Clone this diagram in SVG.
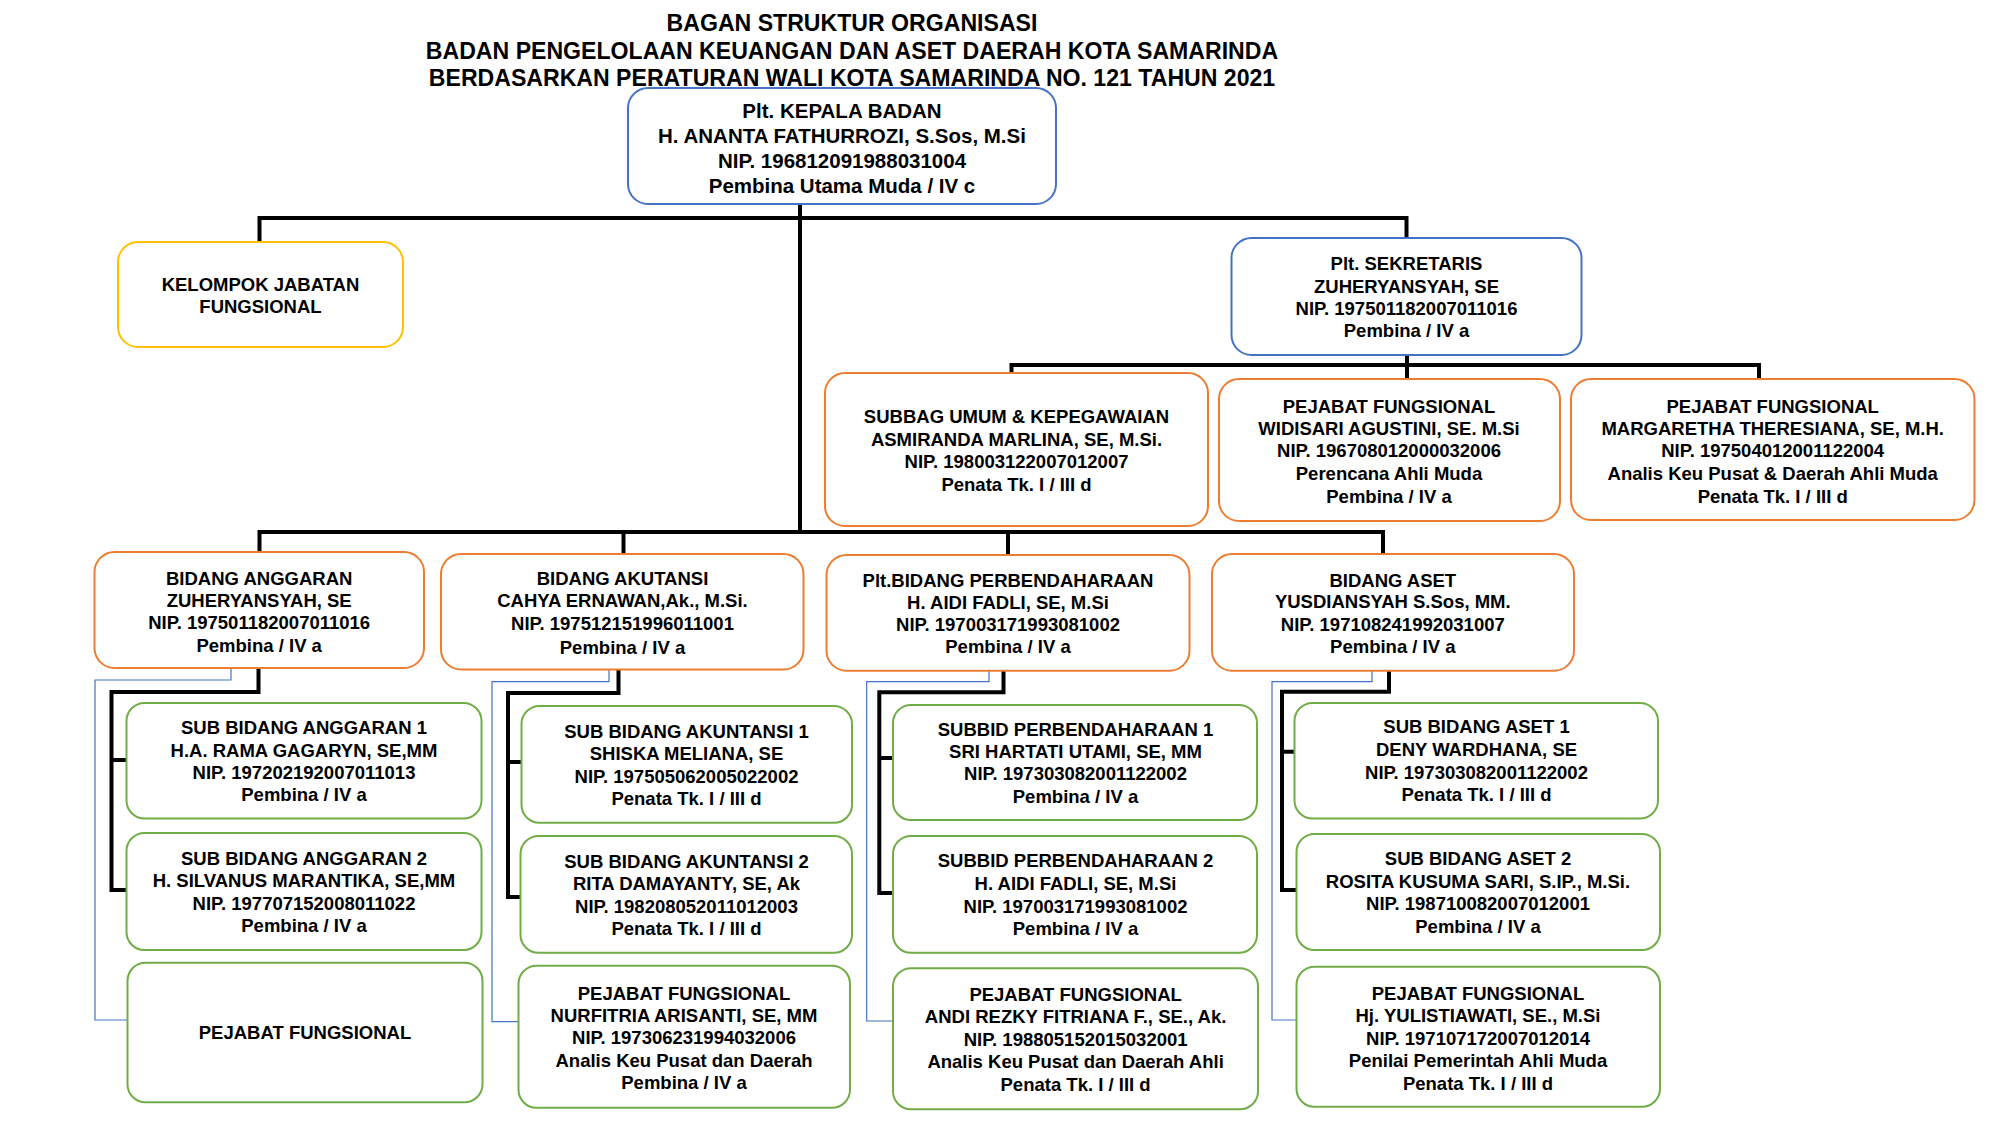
<svg xmlns="http://www.w3.org/2000/svg" width="2000" height="1125" viewBox="0 0 2000 1125">
<style>
text{font-family:"Liberation Sans",Arial,sans-serif;font-weight:bold;fill:#000;text-anchor:middle}
.tt{font-size:23.1px}
.tk{font-size:20.5px}
.t{font-size:18.5px}
.box{fill:#fff;stroke-width:2}
.blue{stroke:#4472C4}
.yel{stroke:#FFC000}
.org{stroke:#ED7D31}
.grn{stroke:#70AD47}
.ln{stroke:#000;stroke-width:4;fill:none}
.thin{stroke:#4472C4;stroke-width:1.2;fill:none}
</style>
<rect width="2000" height="1125" fill="#fff"/>
<g id="title">
<text class="tt" x="852" y="31">BAGAN STRUKTUR ORGANISASI</text>
<text class="tt" x="852" y="58.5">BADAN PENGELOLAAN KEUANGAN DAN ASET DAERAH KOTA SAMARINDA</text>
<text class="tt" x="852" y="85.5">BERDASARKAN PERATURAN WALI KOTA SAMARINDA NO. 121 TAHUN 2021</text>
</g>
<g id="connectors">
<path class="thin" d="M231,668 V680 H95 V1020 H127.5"/>
<path class="thin" d="M609,669 V681.7 H492 V1021.7 H518.5"/>
<path class="thin" d="M989,670.7 V681.7 H866.7 V1021 H893"/>
<path class="thin" d="M1372,670.7 V681.7 H1272 V1020 H1296.5"/>
<path class="ln" d="M800,204 V532"/>
<path class="ln" d="M259.5,242 V218 H1406.5 V238"/>
<path class="ln" d="M1407,355 V379"/>
<path class="ln" d="M1011.5,373 V365 H1759 V379"/>
<path class="ln" d="M259.5,552 V532 H1383 V554"/>
<path class="ln" d="M623.5,532 V554"/>
<path class="ln" d="M1008,532 V555"/>
<path class="ln" d="M258.5,668 V692 H111.5 V890 H126.5 M111.5,760 H126.5"/>
<path class="ln" d="M618.5,669 V693 H508 V897 H521 M508,762 H521.5"/>
<path class="ln" d="M1003.5,670.7 V692.3 H879.3 V893 H893 M879.3,758 H893"/>
<path class="ln" d="M1389,670.7 V691.7 H1282 V890 H1296.5 M1282,751.7 H1294.5"/>
</g>
<g id="kepala">
<rect class="box blue" x="628" y="88" width="428" height="116" rx="20"/>
<text class="tk"><tspan x="842" y="118">Plt. KEPALA BADAN</tspan><tspan x="842" y="143">H. ANANTA FATHURROZI, S.Sos, M.Si</tspan><tspan x="842" y="168">NIP. 196812091988031004</tspan><tspan x="842" y="193">Pembina Utama Muda / IV c</tspan></text>
</g>
<g id="kelompok">
<rect class="box yel" x="118" y="242" width="285" height="105" rx="20"/>
<text class="t"><tspan x="260.5" y="290.5">KELOMPOK JABATAN</tspan><tspan x="260.5" y="313">FUNGSIONAL</tspan></text>
</g>
<g id="sekretaris">
<rect class="box blue" x="1231.5" y="238" width="350" height="117" rx="20"/>
<text class="t"><tspan x="1406.5" y="270">Plt. SEKRETARIS</tspan><tspan x="1406.5" y="292.5">ZUHERYANSYAH, SE</tspan><tspan x="1406.5" y="315">NIP. 197501182007011016</tspan><tspan x="1406.5" y="337">Pembina / IV a</tspan></text>
</g>
<g id="subbag">
<rect class="box org" x="825" y="373" width="383" height="153" rx="20"/>
<text class="t"><tspan x="1016.5" y="423.3">SUBBAG UMUM &amp; KEPEGAWAIAN</tspan><tspan x="1016.5" y="445.7">ASMIRANDA MARLINA, SE, M.Si.</tspan><tspan x="1016.5" y="468.3">NIP. 198003122007012007</tspan><tspan x="1016.5" y="491">Penata Tk. I / III d</tspan></text>
</g>
<g id="pf-widisari">
<rect class="box org" x="1219" y="379" width="341" height="142" rx="20"/>
<text class="t"><tspan x="1389" y="412.7">PEJABAT FUNGSIONAL</tspan><tspan x="1389" y="435">WIDISARI AGUSTINI, SE. M.Si</tspan><tspan x="1389" y="457.3">NIP. 196708012000032006</tspan><tspan x="1389" y="479.5">Perencana Ahli Muda</tspan><tspan x="1389" y="502.5">Pembina / IV a</tspan></text>
</g>
<g id="pf-margaretha">
<rect class="box org" x="1571" y="379" width="403.5" height="141" rx="20"/>
<text class="t"><tspan x="1772.7" y="412.7">PEJABAT FUNGSIONAL</tspan><tspan x="1772.7" y="435">MARGARETHA THERESIANA, SE, M.H.</tspan><tspan x="1772.7" y="457.3">NIP. 197504012001122004</tspan><tspan x="1772.7" y="479.5">Analis Keu Pusat &amp; Daerah Ahli Muda</tspan><tspan x="1772.7" y="502.5">Penata Tk. I / III d</tspan></text>
</g>
<g id="bidang-anggaran">
<rect class="box org" x="94.5" y="552" width="329.5" height="116" rx="20"/>
<text class="t"><tspan x="259.2" y="585">BIDANG ANGGARAN</tspan><tspan x="259.2" y="606.7">ZUHERYANSYAH, SE</tspan><tspan x="259.2" y="629.3">NIP. 197501182007011016</tspan><tspan x="259.2" y="651.7">Pembina / IV a</tspan></text>
</g>
<g id="bidang-akutansi">
<rect class="box org" x="441" y="554" width="362.5" height="115.5" rx="20"/>
<text class="t"><tspan x="622.5" y="585">BIDANG AKUTANSI</tspan><tspan x="622.5" y="607">CAHYA ERNAWAN,Ak., M.Si.</tspan><tspan x="622.5" y="630">NIP. 197512151996011001</tspan><tspan x="622.5" y="654">Pembina / IV a</tspan></text>
</g>
<g id="bidang-perbendaharaan">
<rect class="box org" x="826.5" y="555" width="363" height="115.7" rx="20"/>
<text class="t"><tspan x="1008" y="586.7">Plt.BIDANG PERBENDAHARAAN</tspan><tspan x="1008" y="609">H. AIDI FADLI, SE, M.Si</tspan><tspan x="1008" y="630.7">NIP. 197003171993081002</tspan><tspan x="1008" y="653.3">Pembina / IV a</tspan></text>
</g>
<g id="bidang-aset">
<rect class="box org" x="1212" y="554" width="362" height="116.7" rx="20"/>
<text class="t"><tspan x="1392.8" y="586.7">BIDANG ASET</tspan><tspan x="1392.8" y="608.3">YUSDIANSYAH S.Sos, MM.</tspan><tspan x="1392.8" y="630.7">NIP. 197108241992031007</tspan><tspan x="1392.8" y="653.3">Pembina / IV a</tspan></text>
</g>
<g id="sb-anggaran-1">
<rect class="box grn" x="126.5" y="703" width="355" height="115.5" rx="18"/>
<text class="t"><tspan x="304" y="734">SUB BIDANG ANGGARAN 1</tspan><tspan x="304" y="756.5">H.A. RAMA GAGARYN, SE,MM</tspan><tspan x="304" y="779">NIP. 197202192007011013</tspan><tspan x="304" y="801">Pembina / IV a</tspan></text>
</g>
<g id="sb-anggaran-2">
<rect class="box grn" x="126.5" y="833" width="355" height="117" rx="18"/>
<text class="t"><tspan x="304" y="865">SUB BIDANG ANGGARAN 2</tspan><tspan x="304" y="887.3">H. SILVANUS MARANTIKA, SE,MM</tspan><tspan x="304" y="910">NIP. 197707152008011022</tspan><tspan x="304" y="931.7">Pembina / IV a</tspan></text>
</g>
<g id="pf-anggaran">
<rect class="box grn" x="127.5" y="962.7" width="355" height="139.6" rx="18"/>
<text class="t" x="305" y="1039.3">PEJABAT FUNGSIONAL</text>
</g>
<g id="sb-akuntansi-1">
<rect class="box grn" x="521.5" y="706" width="330.5" height="116.7" rx="18"/>
<text class="t"><tspan x="686.5" y="738.3">SUB BIDANG AKUNTANSI 1</tspan><tspan x="686.5" y="760">SHISKA MELIANA, SE</tspan><tspan x="686.5" y="782.7">NIP. 197505062005022002</tspan><tspan x="686.5" y="805">Penata Tk. I / III d</tspan></text>
</g>
<g id="sb-akuntansi-2">
<rect class="box grn" x="520.5" y="836" width="331.5" height="116.7" rx="18"/>
<text class="t"><tspan x="686.5" y="868.3">SUB BIDANG AKUNTANSI 2</tspan><tspan x="686.5" y="890">RITA DAMAYANTY, SE, Ak</tspan><tspan x="686.5" y="912.7">NIP. 198208052011012003</tspan><tspan x="686.5" y="935">Penata Tk. I / III d</tspan></text>
</g>
<g id="pf-akuntansi">
<rect class="box grn" x="518.5" y="965.7" width="331.5" height="142" rx="18"/>
<text class="t"><tspan x="684" y="999.5">PEJABAT FUNGSIONAL</tspan><tspan x="684" y="1022">NURFITRIA ARISANTI, SE, MM</tspan><tspan x="684" y="1044">NIP. 197306231994032006</tspan><tspan x="684" y="1066.5">Analis Keu Pusat dan Daerah</tspan><tspan x="684" y="1089">Pembina / IV a</tspan></text>
</g>
<g id="sb-perbendaharaan-1">
<rect class="box grn" x="893" y="705" width="364" height="115" rx="18"/>
<text class="t"><tspan x="1075.5" y="736">SUBBID PERBENDAHARAAN 1</tspan><tspan x="1075.5" y="758.3">SRI HARTATI UTAMI, SE, MM</tspan><tspan x="1075.5" y="780">NIP. 197303082001122002</tspan><tspan x="1075.5" y="803.3">Pembina / IV a</tspan></text>
</g>
<g id="sb-perbendaharaan-2">
<rect class="box grn" x="893" y="836" width="364" height="116.7" rx="18"/>
<text class="t"><tspan x="1075.5" y="867.3">SUBBID PERBENDAHARAAN 2</tspan><tspan x="1075.5" y="890">H. AIDI FADLI, SE, M.Si</tspan><tspan x="1075.5" y="912.7">NIP. 197003171993081002</tspan><tspan x="1075.5" y="935">Pembina / IV a</tspan></text>
</g>
<g id="pf-perbendaharaan">
<rect class="box grn" x="893" y="968.3" width="365" height="141" rx="18"/>
<text class="t"><tspan x="1075.6" y="1001">PEJABAT FUNGSIONAL</tspan><tspan x="1075.6" y="1023.3">ANDI REZKY FITRIANA F., SE., Ak.</tspan><tspan x="1075.6" y="1046">NIP. 198805152015032001</tspan><tspan x="1075.6" y="1068.3">Analis Keu Pusat dan Daerah Ahli</tspan><tspan x="1075.6" y="1090.7">Penata Tk. I / III d</tspan></text>
</g>
<g id="sb-aset-1">
<rect class="box grn" x="1294.5" y="703" width="363.5" height="115.5" rx="18"/>
<text class="t"><tspan x="1476.5" y="733.3">SUB BIDANG ASET 1</tspan><tspan x="1476.5" y="756">DENY WARDHANA, SE</tspan><tspan x="1476.5" y="779.3">NIP. 197303082001122002</tspan><tspan x="1476.5" y="800.7">Penata Tk. I / III d</tspan></text>
</g>
<g id="sb-aset-2">
<rect class="box grn" x="1296.5" y="834" width="363.5" height="116" rx="18"/>
<text class="t"><tspan x="1478" y="865">SUB BIDANG ASET 2</tspan><tspan x="1478" y="887.7">ROSITA KUSUMA SARI, S.IP., M.Si.</tspan><tspan x="1478" y="910">NIP. 198710082007012001</tspan><tspan x="1478" y="932.7">Pembina / IV a</tspan></text>
</g>
<g id="pf-aset">
<rect class="box grn" x="1296.5" y="966.7" width="363.5" height="140" rx="18"/>
<text class="t"><tspan x="1478" y="1000">PEJABAT FUNGSIONAL</tspan><tspan x="1478" y="1021.7">Hj. YULISTIAWATI, SE., M.Si</tspan><tspan x="1478" y="1045">NIP. 197107172007012014</tspan><tspan x="1478" y="1067.3">Penilai Pemerintah Ahli Muda</tspan><tspan x="1478" y="1090">Penata Tk. I / III d</tspan></text>
</g>
</svg>
